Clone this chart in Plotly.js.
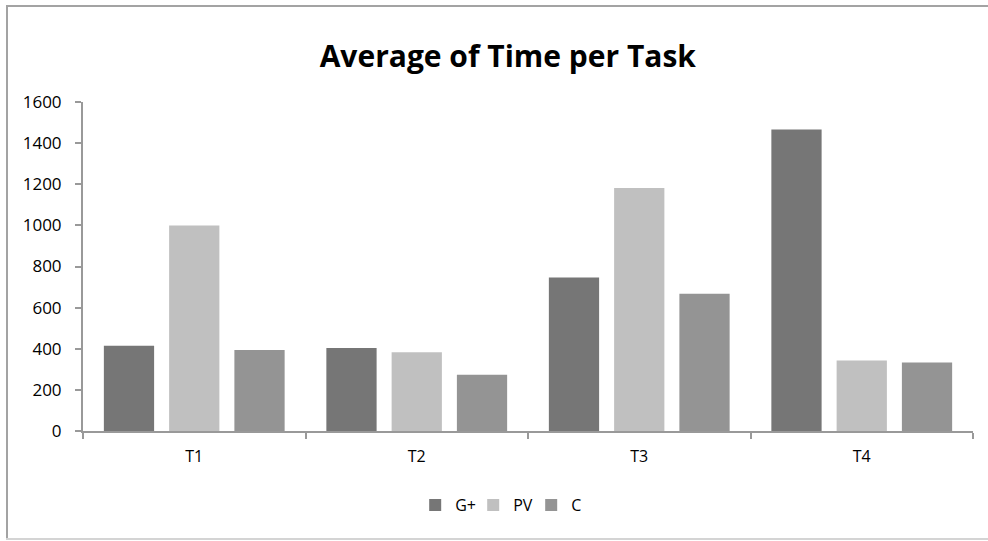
<!DOCTYPE html>
<html>
<head>
<meta charset="utf-8">
<script src="https://cdn.plot.ly/plotly-3.0.1.min.js"></script>
<style>
  html, body { margin: 0; padding: 0; background: #fff; overflow: hidden; width: 988px; height: 541px; }
  .ln { position: absolute; }
  #lnL { left: 6px; top: 5px; width: 2px; height: 535px; background: #a3a3a3; }
  #lnT { left: 6px; top: 5px; width: 982px; height: 2px; background: #a3a3a3; }
  #lnB { left: 6px; top: 538px; width: 982px; height: 2px; background: #d4d4d4; }
  #chart { position: absolute; left: 0; top: 0; width: 988px; height: 541px; }
</style>
</head>
<body>
<div class="ln" id="lnL"></div>
<div class="ln" id="lnT"></div>
<div class="ln" id="lnB"></div>
<div id="chart"></div>
<script>
const categories = ["T1", "T2", "T3", "T4"];
const seriesNames = ["G+", "PV", "C"];
const gPlus = [414, 404, 747, 1466];
const pv = [1000, 383, 1182, 343];
const c = [394, 273, 667, 333];
const yTicks = [0, 200, 400, 600, 800, 1000, 1200, 1400, 1600];

const colors = ["#767676", "#c0c0c0", "#949494"];
const values = [gPlus, pv, c];
const fontFam = "'Open Sans', sans-serif";

const traces = seriesNames.map((name, i) => ({
  type: "bar",
  name: name,
  x: categories,
  y: values[i],
  marker: { color: colors[i], line: { color: "#ffffff", width: 0 } },
  hoverinfo: "x+y+name"
}));

const layout = {
  width: 988, height: 541,
  paper_bgcolor: "rgba(0,0,0,0)",
  plot_bgcolor: "rgba(0,0,0,0)",
  margin: { l: 83, r: 15, t: 102, b: 110 },
  barmode: "group",
  bargap: 0.12,
  bargroupgap: 0.23,
  showlegend: true,
  title: {
    text: "<b>Average of Time per Task</b>",
    font: { family: fontFam, size: 30, color: "#000" },
    x: 0.514, xanchor: "center",
    y: 1 - 56 / 541, yref: "container", yanchor: "middle"
  },
  xaxis: {
    type: "category",
    showline: true, linecolor: "#999", linewidth: 2,
    ticks: "outside", tickson: "boundaries", ticklen: 6, tickcolor: "#999", tickwidth: 2,
    showgrid: false, zeroline: false,
    tickfont: { family: fontFam, size: 16, color: "#000" },
    ticklabelstandoff: 10,
    fixedrange: true
  },
  yaxis: {
    range: [0, 1600],
    tickvals: yTicks,
    ticktext: yTicks.map(String),
    showline: true, linecolor: "#999", linewidth: 2,
    ticks: "outside", ticklen: 6, tickcolor: "#999", tickwidth: 2,
    showgrid: false, zeroline: false,
    tickfont: { family: fontFam, size: 17, color: "#000" },
    ticklabelstandoff: 10,
    fixedrange: true
  },
  legend: {
    orientation: "h",
    x: 0.471, xanchor: "center",
    y: -0.225, yanchor: "middle",
    font: { family: fontFam, size: 16, color: "#000" },
    itemwidth: 30,
    entrywidth: 13,
    traceorder: "normal"
  }
};

Plotly.newPlot("chart", traces, layout, { displayModeBar: false, staticPlot: true });
</script>
</body>
</html>
